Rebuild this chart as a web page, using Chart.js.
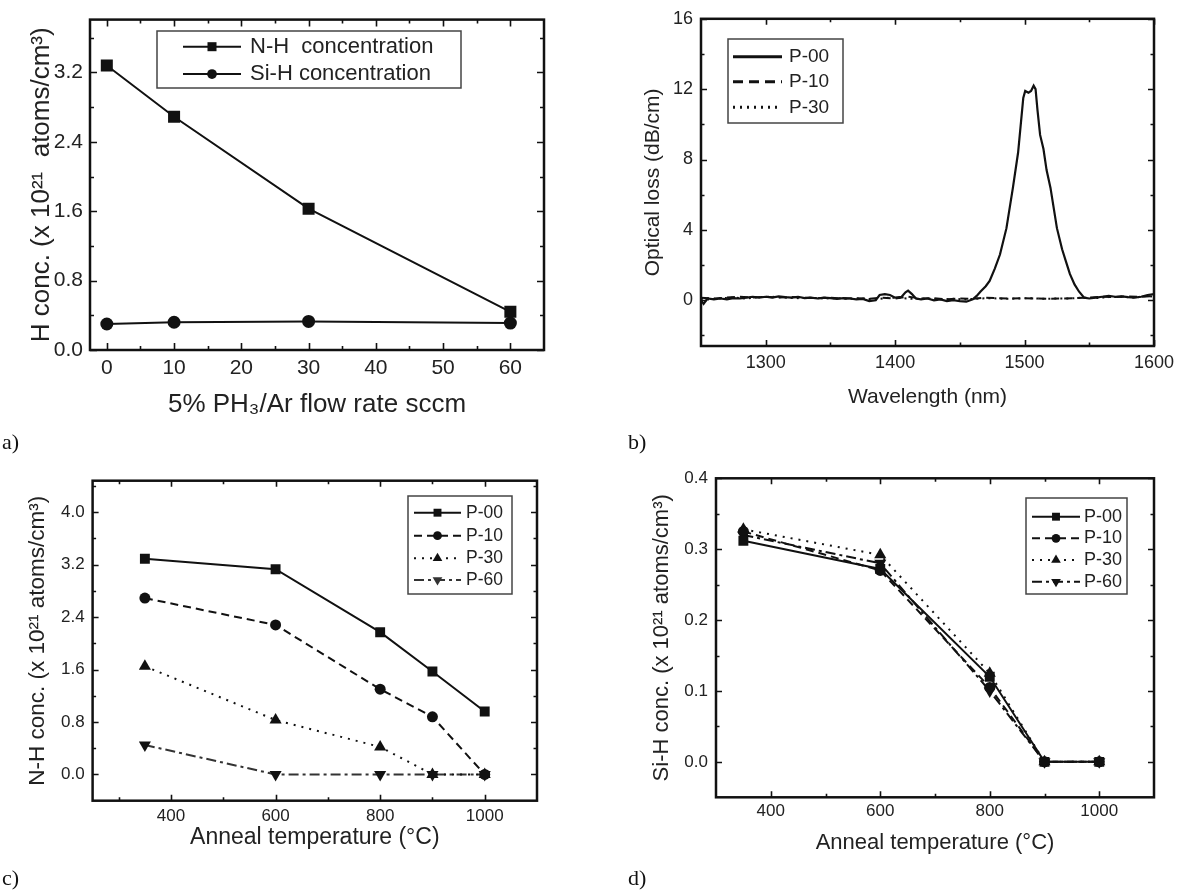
<!DOCTYPE html>
<html><head><meta charset="utf-8">
<script src="https://cdn.jsdelivr.net/npm/chart.js@4.4.1/dist/chart.umd.min.js"></script>
<style>
body{margin:0;background:#fff;width:1184px;height:890px;position:relative;overflow:hidden;font-family:"Liberation Sans",Arial,sans-serif}
canvas{position:absolute}
.lab{position:absolute;font-family:"Liberation Serif","Times New Roman",serif;font-size:22px;color:#111;line-height:24px}
</style></head><body>
<canvas id="ca" width="560" height="430" style="left:0;top:0"></canvas>
<canvas id="cb" width="624" height="430" style="left:560px;top:0"></canvas>
<canvas id="cc" width="560" height="440" style="left:0;top:440px"></canvas>
<canvas id="cd" width="624" height="440" style="left:560px;top:440px"></canvas>
<div class="lab" style="left:2px;top:430px">a)</div>
<div class="lab" style="left:628px;top:430px">b)</div>
<div class="lab" style="left:2px;top:866px">c)</div>
<div class="lab" style="left:628px;top:866px">d)</div>
<script>
// ---------- Panel a ----------
const flowRate = [0, 10, 30, 60];
const nhConcA = [3.28, 2.69, 1.63, 0.44];
const sihConcA = [0.30, 0.32, 0.33, 0.31];
const xTicksA = [0, 10, 20, 30, 40, 50, 60];
const yTicksA = [0, 0.8, 1.6, 2.4, 3.2];

// ---------- Panel b ----------
const wlP00 = [1250,1252,1255,1260,1265,1270,1275,1280,1285,1290,1295,1300,1305,1310,1315,1320,1325,1330,1335,1340,1345,1350,1355,1360,1365,1370,1375,1380,1385,1388,1392,1396,1400,1405,1408,1410,1413,1416,1420,1425,1430,1435,1440,1445,1450,1455,1460,1463,1466,1470,1473,1477,1481,1486,1491,1495,1499,1500.5,1503,1505,1507,1508.5,1510,1512,1514.6,1517,1520,1525,1529,1532,1535,1538.6,1542,1546,1550,1555,1560,1565,1570,1575,1580,1585,1590,1595,1600];
const lossP00 = [0.0,-0.2,0.1,0.05,0.1,0.05,0.12,0.1,0.15,0.2,0.15,0.2,0.15,0.22,0.18,0.15,0.2,0.12,0.15,0.1,0.15,0.12,0.08,0.12,0.1,0.05,0.08,-0.05,0.0,0.3,0.35,0.3,0.15,0.2,0.45,0.55,0.35,0.1,0.05,0.1,0.0,0.05,-0.05,0.0,-0.05,-0.08,0.05,0.25,0.5,0.8,1.1,1.8,2.6,4.1,6.4,8.4,11.5,11.9,11.8,11.9,12.2,12.0,10.8,9.4,8.6,7.4,6.4,4.1,2.9,2.2,1.5,0.9,0.5,0.15,0.1,0.15,0.2,0.25,0.2,0.22,0.18,0.15,0.2,0.3,0.35];
const wlP10 = [1250,1260,1270,1280,1290,1300,1310,1320,1330,1340,1350,1360,1370,1380,1390,1400,1410,1420,1430,1440,1450,1460,1470,1480,1490,1500,1510,1520,1530,1540,1550,1560,1570,1580,1590,1600];
const lossP10 = [0.15,0.1,0.15,0.2,0.15,0.2,0.15,0.18,0.15,0.12,0.15,0.1,0.12,0.08,0.15,0.1,0.2,0.1,0.12,0.05,0.1,0.08,0.15,0.12,0.1,0.12,0.1,0.08,0.1,0.12,0.15,0.2,0.18,0.22,0.2,0.25];
const wlP30 = [1250,1256,1265,1275,1285,1295,1305,1315,1325,1335,1345,1355,1365,1375,1385,1395,1405,1415,1425,1435,1445,1455,1465,1475,1485,1495,1505,1515,1525,1535,1545,1555,1565,1575,1585,1595,1600];
const lossP30 = [0.1,0.05,0.12,0.15,0.1,0.18,0.2,0.15,0.12,0.15,0.1,0.12,0.08,0.1,0.05,0.15,0.12,0.08,0.1,0.05,0.08,0.05,0.1,0.12,0.08,0.1,0.12,0.08,0.1,0.1,0.15,0.12,0.18,0.2,0.15,0.25,0.2];
const xTicksB = [1300, 1400, 1500, 1600];
const yTicksB = [0, 4, 8, 12, 16];

// ---------- Panel c ----------
const annealT = [350, 600, 800, 900, 1000];
const nhP00 = [3.29, 3.13, 2.17, 1.57, 0.96];
const nhP10 = [2.69, 2.28, 1.30, 0.88, 0.0];
const nhP30 = [1.65, 0.83, 0.42, 0.0, 0.0];
const nhP60 = [0.45, 0.0, 0.0, 0.0, 0.0];
const xTicksCD = [400, 600, 800, 1000];
const yTicksC = [0, 0.8, 1.6, 2.4, 3.2, 4.0];

// ---------- Panel d ----------
const sihP00 = [0.312, 0.272, 0.120, 0.0, 0.0];
const sihP10 = [0.325, 0.270, 0.105, 0.0, 0.0];
const sihP30 = [0.328, 0.292, 0.125, 0.0, 0.0];
const sihP60 = [0.320, 0.280, 0.100, 0.0, 0.0];
const yTicksD = [0, 0.1, 0.2, 0.3, 0.4];

const FONT = '"Liberation Sans", Arial, sans-serif';
const INK = '#111';

function pts(xs, ys){ return xs.map((x,i)=>({x:x, y:ys[i]})); }

function minorVals(major, min, max){
  const s = major[1]-major[0], out = [];
  for (let v = major[0]-s/2; v > min+1e-9; v -= s) out.push(v);
  for (let v = major[0]+s/2; v < max-1e-9; v += s) out.push(v);
  return out;
}

const framePlugin = {
  id: 'frame',
  afterDatasetsDraw(chart, args, o){
    const {ctx, chartArea:a} = chart;
    const x = chart.scales.x, y = chart.scales.y;
    const xm = x.ticks.map(t=>t.value), ym = y.ticks.map(t=>t.value);
    const xn = minorVals(xm, x.min, x.max), yn = minorVals(ym, y.min, y.max);
    ctx.save();
    ctx.strokeStyle = INK; ctx.lineWidth = o.tickWidth || 1.6; ctx.lineCap='butt';
    ctx.beginPath();
    const vx = (vals, len) => vals.forEach(v => { const p = Math.round(x.getPixelForValue(v))+0.5;
      ctx.moveTo(p, a.bottom); ctx.lineTo(p, a.bottom-len); ctx.moveTo(p, a.top); ctx.lineTo(p, a.top+len); });
    const vy = (vals, len) => vals.forEach(v => { const p = Math.round(y.getPixelForValue(v))+0.5;
      ctx.moveTo(a.left, p); ctx.lineTo(a.left+len, p); ctx.moveTo(a.right, p); ctx.lineTo(a.right-len, p); });
    vx(xm, o.major); vy(ym, o.major); vx(xn, o.minor); vy(yn, o.minor);
    ctx.stroke();
    ctx.lineWidth = o.frameWidth || 2.5;
    ctx.strokeRect(a.left, a.top, a.right-a.left, a.bottom-a.top);
    ctx.restore();
  }
};

const legendPlugin = {
  id: 'insetLegend',
  afterDraw(chart, args, o){
    const {ctx} = chart;
    ctx.save();
    ctx.strokeStyle = '#444'; ctx.lineWidth = 1.5;
    ctx.strokeRect(o.box[0], o.box[1], o.box[2], o.box[3]);
    chart.data.datasets.forEach((ds, i) => {
      const yy = o.rows[i];
      ctx.strokeStyle = ds.borderColor; ctx.lineWidth = o.lineWidth || ds.borderWidth;
      ctx.setLineDash(o.dash ? o.dash[i] : (ds.borderDash || []));
      ctx.beginPath(); ctx.moveTo(o.x1, yy); ctx.lineTo(o.x2, yy); ctx.stroke();
      ctx.setLineDash([]);
      if (ds.pointRadius > 0) {
        ctx.fillStyle = ds.borderColor;
        Chart.helpers.drawPoint(ctx, {pointStyle: ds.pointStyle, radius: ds.pointRadius*o.markScale, rotation: ds.pointRotation||0, borderWidth: 0}, (o.x1+o.x2)/2, yy);
      }
      ctx.fillStyle = '#222'; ctx.font = o.font + 'px ' + FONT;
      ctx.textBaseline = 'middle'; ctx.textAlign = 'left';
      ctx.fillText(ds.label, o.tx, yy);
    });
    ctx.restore();
  }
};

function axis(opts){
  const o = {
    type: 'linear', min: opts.min, max: opts.max,
    grid: {display: false, drawTicks: false}, border: {display: false},
    afterBuildTicks: s => { s.ticks = opts.ticks.map(v => ({value: v})); },
    afterFit: s => { if (opts.size) { if (s.isHorizontal()) s.height = opts.size; else s.width = opts.size; } },
    ticks: {autoSkip: false, maxRotation: 0, padding: opts.pad, color: '#222',
      font: {family: FONT, size: opts.tickFont},
      callback: v => opts.fmt ? opts.fmt(v) : String(v)},
    title: {display: true, text: opts.title, color: '#222', font: {family: FONT, size: opts.titleFont},
      padding: opts.titlePad}
  };
  return o;
}

function ds(label, xs, ys, st){
  return Object.assign({label: label, data: pts(xs, ys), borderColor: INK, backgroundColor: INK,
    pointBackgroundColor: INK, pointBorderColor: INK, pointBorderWidth: 0, borderWidth: 2, tension: 0,
    pointRadius: 0, fill: false}, st);
}

function make(id, datasets, padding, xo, yo, frameOpts, legendOpts){
  new Chart(document.getElementById(id), {
    type: 'line',
    data: {datasets: datasets},
    options: {
      responsive: false, animation: false, devicePixelRatio: 1,
      layout: {padding: padding},
      plugins: {legend: {display: false}, tooltip: {enabled: false}, frame: frameOpts, insetLegend: legendOpts},
      scales: {x: axis(xo), y: axis(yo)}
    },
    plugins: [framePlugin, legendPlugin]
  });
}

// Panel a
make('ca', [
  ds('N-H  concentration', flowRate, nhConcA, {pointStyle: 'rect', pointRadius: 8.5}),
  ds('Si-H concentration', flowRate, sihConcA, {pointStyle: 'circle', pointRadius: 6.5})
], {top: 15, right: 16, left: 0, bottom: 0},
 {min: -2.5, max: 65, ticks: xTicksA, size: 80, pad: 5.5, tickFont: 21, titleFont: 26,
  title: '5% PH\u2083/Ar flow rate sccm', titlePad: {top: 0, bottom: 9.4}},
 {min: 0, max: 3.81, ticks: yTicksA, size: 90, pad: 7, tickFont: 21, titleFont: 26, fmt: v => v.toFixed(1),
  title: 'H conc. (x 10\u00B2\u00B9  atoms/cm\u00B3)', titlePad: {top: 26.4, bottom: 0}},
 {major: 7, minor: 4},
 {box: [157, 31, 304, 57], rows: [46.7, 74], x1: 183, x2: 241, tx: 250, font: 22, markScale: 0.75});

// Panel b
make('cb', [
  ds('P-00', wlP00, lossP00, {borderWidth: 2.2}),
  ds('P-10', wlP10, lossP10, {borderWidth: 2, borderDash: [8, 5]}),
  ds('P-30', wlP30, lossP30, {borderWidth: 2, borderDash: [2, 4]})
], {top: 16, right: 30, left: 0, bottom: 0},
 {min: 1250, max: 1600, ticks: xTicksB, size: 84, pad: 6, tickFont: 18, titleFont: 21,
  title: 'Wavelength (nm)', titlePad: {top: 0, bottom: 20.4}},
 {min: -2.6, max: 16, ticks: yTicksB, size: 141, pad: 8, tickFont: 18, titleFont: 21,
  title: 'Optical loss (dB/cm)', titlePad: {top: 80.4, bottom: 0}},
 {major: 6, minor: 3.5},
 {box: [168, 39, 115, 84], rows: [56.7, 81.7, 107.3], x1: 173, x2: 222, tx: 229, font: 19, markScale: 1,
  lineWidth: 3, dash: [[], [10, 6], [2, 5]]});

// Panel c
make('cc', [
  ds('P-00', annealT, nhP00, {pointStyle: 'rect', pointRadius: 7}),
  ds('P-10', annealT, nhP10, {pointStyle: 'circle', pointRadius: 5.5, borderDash: [8, 5]}),
  ds('P-30', annealT, nhP30, {pointStyle: 'triangle', pointRadius: 7, borderDash: [2, 6]}),
  ds('P-60', annealT, nhP60, {pointStyle: 'triangle', pointRotation: 180, pointRadius: 7, borderDash: [10, 4, 3, 4], borderColor: '#333'})
], {top: 40.7, right: 23, left: 0, bottom: 0},
 {min: 250, max: 1100, ticks: xTicksCD, size: 79.3, pad: 5.6, tickFont: 17, titleFont: 23,
  title: 'Anneal temperature (\u00B0C)', titlePad: {top: 0, bottom: 28.2}},
 {min: -0.4, max: 4.48, ticks: yTicksC, size: 92.6, pad: 8, tickFont: 17, titleFont: 22.5, fmt: v => v.toFixed(1),
  title: 'N-H conc. (x 10\u00B2\u00B9 atoms/cm\u00B3)', titlePad: {top: 24.5, bottom: 0}},
 {major: 6, minor: 3.5},
 {box: [408, 56, 104, 98], rows: [72.7, 95.7, 118.3, 140], x1: 414, x2: 461, tx: 466, font: 17.5, markScale: 0.8});

// Panel d
make('cd', [
  ds('P-00', annealT, sihP00, {pointStyle: 'rect', pointRadius: 7}),
  ds('P-10', annealT, sihP10, {pointStyle: 'circle', pointRadius: 5.5, borderDash: [8, 5]}),
  ds('P-30', annealT, sihP30, {pointStyle: 'triangle', pointRadius: 7, borderDash: [2, 6]}),
  ds('P-60', annealT, sihP60, {pointStyle: 'triangle', pointRotation: 180, pointRadius: 7, borderDash: [10, 4, 3, 4]})
], {top: 38.3, right: 30, left: 0, bottom: 0},
 {min: 300, max: 1100, ticks: xTicksCD, size: 82.7, pad: 3.5, tickFont: 17, titleFont: 22,
  title: 'Anneal temperature (\u00B0C)', titlePad: {top: 0, bottom: 23.8}},
 {min: -0.05, max: 0.4, ticks: yTicksD, size: 156, pad: 8, tickFont: 17, titleFont: 22, fmt: v => v.toFixed(1),
  title: 'Si-H conc. (x 10\u00B2\u00B9 atoms/cm\u00B3)', titlePad: {top: 88.8, bottom: 0}},
 {major: 6, minor: 3.5},
 {box: [466, 58, 101, 96], rows: [76.7, 98.3, 120, 141.7], x1: 472, x2: 520, tx: 524, font: 18, markScale: 0.8});
</script>
</body></html>
